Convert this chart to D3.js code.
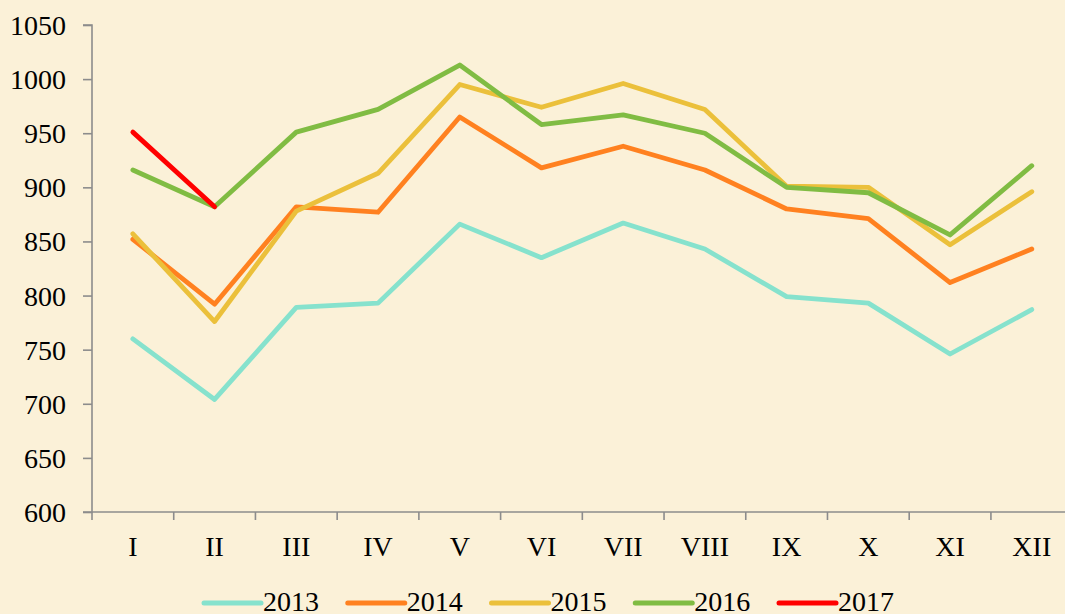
<!DOCTYPE html>
<html>
<head>
<meta charset="utf-8">
<script src="https://cdn.jsdelivr.net/npm/d3@7"></script>
<style>
  html, body { margin: 0; padding: 0; background: #FBF1D8; }
  svg { display: block; }
  text { font-family: "Liberation Serif", "DejaVu Serif", serif; fill: #000; }
</style>
</head>
<body>
<svg id="chart" width="1065" height="614"></svg>
<script>
const categories = ["I","II","III","IV","V","VI","VII","VIII","IX","X","XI","XII"];
const years = ["2013","2014","2015","2016","2017"];
const s2013 = [760, 704, 789, 793, 866, 835, 867, 843, 799, 793, 746, 787];
const s2014 = [852, 792, 882, 877, 965, 918, 938, 916, 880, 871, 812, 843];
const s2015 = [857, 776, 878, 913, 995, 974, 996, 972, 901, 900, 847, 896];
const s2016 = [916, 882, 951, 972, 1013, 958, 967, 950, 900, 895, 856, 920];
const s2017 = [951, 882];
const yTicks = [600, 650, 700, 750, 800, 850, 900, 950, 1000, 1050];
const colors = ["#86E2CD", "#FF8120", "#EBC03B", "#80BC43", "#FF0000"];

const seriesData = [s2013, s2014, s2015, s2016, s2017];

const svg = d3.select("#chart");
const mLeft = 92, mBottom = 512, mTop = 25, band = 81.72;
const fs = 28;

svg.append("rect").attr("width", 1065).attr("height", 614).attr("fill", "#FBF1D8");

const x = d3.scaleBand().domain(categories).range([mLeft, mLeft + band * categories.length]).padding(0);
const y = d3.scaleLinear().domain([600, 1050]).range([mBottom, mTop]);

const axisColor = "#8C8C8C";

// Y axis
const yAxis = svg.append("g").attr("transform", `translate(${mLeft},0)`)
  .call(d3.axisLeft(y).tickValues(yTicks).tickSize(9).tickPadding(17).tickFormat(d3.format("d")));
yAxis.select(".domain").attr("stroke", axisColor).attr("stroke-width", 1.6).attr("d", `M-9,${mTop}H0V${mBottom}H-9`);
yAxis.selectAll(".tick line").attr("stroke", axisColor).attr("stroke-width", 1.6);
yAxis.selectAll(".tick text").attr("font-size", fs).attr("font-family", "Liberation Serif").attr("fill", "#000").attr("dy", "0.34em");

// X axis
const xAxis = svg.append("g").attr("transform", `translate(0,${mBottom})`)
  .call(d3.axisBottom(x).tickSize(0).tickPadding(0));
xAxis.select(".domain").attr("stroke", axisColor).attr("stroke-width", 1.6).attr("d", `M${mLeft},0H1065`);
xAxis.selectAll(".tick text").attr("font-size", fs).attr("font-family", "Liberation Serif").attr("fill", "#000").attr("dy", null).attr("y", 44);
// boundary ticks
const bounds = categories.map(c => x(c)).concat([x(categories[categories.length-1]) + x.bandwidth()]);
xAxis.selectAll("line.bt").data(bounds).enter().append("line").attr("class", "bt")
  .attr("x1", d => d).attr("x2", d => d).attr("y1", 0).attr("y2", 8)
  .attr("stroke", axisColor).attr("stroke-width", 1.6);

// Lines
const line = d3.line().x((d, i) => x(categories[i]) + x.bandwidth() / 2).y(d => y(d));
seriesData.forEach((s, k) => {
  svg.append("path").datum(s).attr("d", line).attr("fill", "none")
    .attr("stroke", colors[k]).attr("stroke-width", 4.8)
    .attr("stroke-linecap", "round").attr("stroke-linejoin", "round");
});

// Legend
const legend = svg.append("g");
years.forEach((yr, i) => {
  const x0 = 204 + i * 143.75;
  legend.append("line").attr("x1", x0).attr("x2", x0 + 57).attr("y1", 603).attr("y2", 603)
    .attr("stroke", colors[i]).attr("stroke-width", 5).attr("stroke-linecap", "round");
  legend.append("text").attr("x", x0 + 59).attr("y", 611).attr("font-size", fs).text(yr);
});
</script>
</body>
</html>
